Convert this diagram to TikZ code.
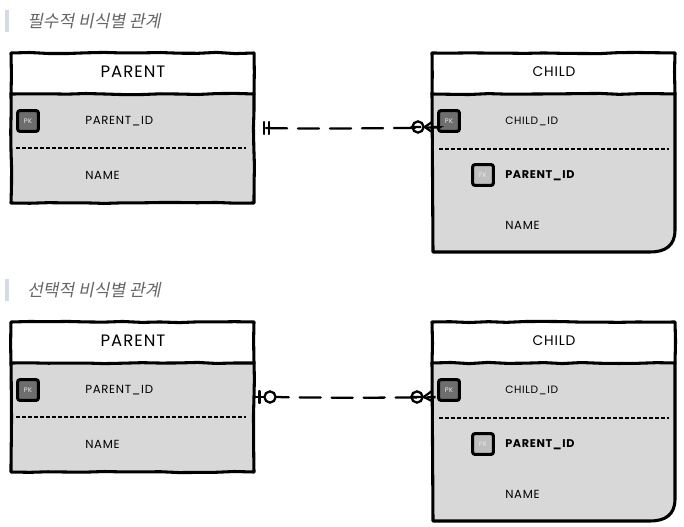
\documentclass[tikz,border=0pt]{standalone}
\usepackage{fontspec}
\setmainfont{Lato}
\newfontfamily\krfont[FakeSlant=0.2]{Noto Sans CJK KR}
\newfontfamily\hand[LetterSpace=6]{Poppins}
\usetikzlibrary{decorations.pathmorphing,calc}
\definecolor{bodygray}{HTML}{D8D8D8}
\definecolor{pkgray}{HTML}{6E6E6E}
\definecolor{fkgray}{HTML}{BEBEBE}
\definecolor{barblue}{HTML}{D5DBE3}
\definecolor{titlegray}{HTML}{666666}
\definecolor{keytext}{HTML}{E4EAF2}
\pgfmathsetseed{7}
\tikzset{
  wob/.style={decorate,decoration={random steps,segment length=14pt,amplitude=0.45pt}},
  outline/.style={line width=2.3pt,line join=round,line cap=round,black},
  thin rule/.style={line width=1.3pt,black,dash pattern=on 3.2pt off 1.3pt},
  link/.style={line width=1.7pt,black,line cap=round},
  tablehead/.style={font=\hand\fontsize{12.4}{14}\selectfont,inner sep=0pt,anchor=center},
  childhead/.style={font=\hand\fontsize{10.4}{13}\selectfont,inner sep=0pt,anchor=center},
  cell/.style={font=\hand\fontsize{8.8}{10}\selectfont,inner sep=0pt,anchor=west},
  narrowcell/.style={font=\hand\fontsize{8}{10}\selectfont,inner sep=0pt,anchor=west},
  boldcell/.style={font=\hand\bfseries\fontsize{8.4}{10}\selectfont,inner sep=0pt,anchor=west},
  keybox/.style={draw=black,line width=2.3pt,rounded corners=1.8pt,minimum size=15.6pt,inner sep=0pt,text=keytext,font=\hand\fontsize{5}{6}\selectfont},
  pkbox/.style={keybox,fill=pkgray},
  fkbox/.style={keybox,fill=fkgray},
  ring/.style={circle,draw=black,fill=white,line width=1.7pt,minimum size=8.4pt,inner sep=0pt},
  titlebar/.style={fill=barblue,draw=none},
  titletext/.style={font=\krfont\fontsize{12.8}{15}\selectfont,text=titlegray,inner sep=0pt,anchor=west}
}
% #1 prefix, #2 y offset
\newcommand{\parenttable}[2]{
\begin{scope}[yshift=-#2*0.75pt]
  \fill[bodygray] (11,94) rectangle (254,203);
  \draw[outline,wob] (11,94) -- (11,203) -- (254,203) -- (254,94);
  \draw[outline,fill=white,wob] (11,53) -- (254,53) -- (254,94) -- (11,94) -- cycle;
  \node[tablehead] (#1head) at (133,72) {PARENT};
  \node[pkbox] (#1pk) at (28,121) {PK};
  \node[cell] (#1id) at (85,121) {PARENT\_ID};
  \draw[thin rule] (16,148) -- (246,148);
  \node[cell] (#1name) at (85,175) {NAME};
\end{scope}}
\newcommand{\childtable}[2]{
\begin{scope}[yshift=-#2*0.75pt]
  \fill[bodygray] (432,94) -- (675,94) -- (675,230) .. controls (675,246) and (665,252) .. (650,252) -- (432,252) -- cycle;
  \draw[outline] (432,94) -- (433,252) -- (650,252) .. controls (665,252) and (675,246) .. (675,230) -- (675,94);
  \draw[outline,fill=white,wob] (432,53) -- (675,53) -- (675,94) -- (432,94) -- cycle;
  \node[childhead] (#1head) at (554,72) {CHILD};
  \node[pkbox] (#1pk) at (449,121) {PK};
  \node[narrowcell] (#1id) at (505,121) {CHILD\_ID};
  \draw[thin rule] (439,149) -- (669,149);
  \node[fkbox] (#1fk) at (483,175) {FK};
  \node[boldcell] (#1fkname) at (505,176) {PARENT\_ID};
  \node[cell] (#1name) at (505,225) {NAME};
\end{scope}}
\begin{document}
\begin{tikzpicture}[x=0.75pt,y=-0.75pt]
\useasboundingbox (0,0) rectangle (684,527);
\fill[white] (0,0) rectangle (684,527);
% titles
\fill[titlebar] (5,10) rectangle (9,32);
\node[titletext] (title1) at (27,21) {필수적 비식별 관계};
\fill[titlebar] (5,279) rectangle (9,301);
\node[titletext] (title2) at (27,290) {선택적 비식별 관계};
% tables
\parenttable{pa}{0}
\childtable{ca}{0}
\parenttable{pb}{269}
\childtable{cb}{269}
% first relation: mandatory parent
\coordinate (paport) at (264,128);
\coordinate (caport) at (432,127);
\node[ring] (ringa) at (418,127) {};
\draw[link,dash pattern=on 15.8pt off 8.2pt] (paport) ++(2,0) .. controls +(50,1.5) and +(100,0) .. (ringa.west);
\draw[link] (paport) ++(0,-6) -- ++(0,12);
\draw[link] (paport) ++(5,-6) -- ++(0,12);
\draw[link] (caport) ++(0,-5) -- (ringa.east) -- ($(caport)+(0,5)$);
% second relation: optional parent
\coordinate (pbport) at (254,397);
\coordinate (cbport) at (432,396);
\node[ring] (ringb) at (417,397) {};
\node[ring] (ringc) at (270,397) {};
\draw[link] (pbport) -- (ringc.west);
\draw[link] (259.5,391) -- (259.5,403);
\draw[link,dash pattern=on 9pt off 8.2pt on 15.8pt off 8.2pt on 15.8pt off 8.2pt on 15.8pt off 8.2pt on 15.8pt off 8.2pt] (ringc.east) .. controls +(50,1.5) and +(90,0) .. (ringb.west);
\draw[link] (cbport) ++(0,-5) -- (ringb.east) -- ($(cbport)+(0,5)$);
\end{tikzpicture}
\end{document}
